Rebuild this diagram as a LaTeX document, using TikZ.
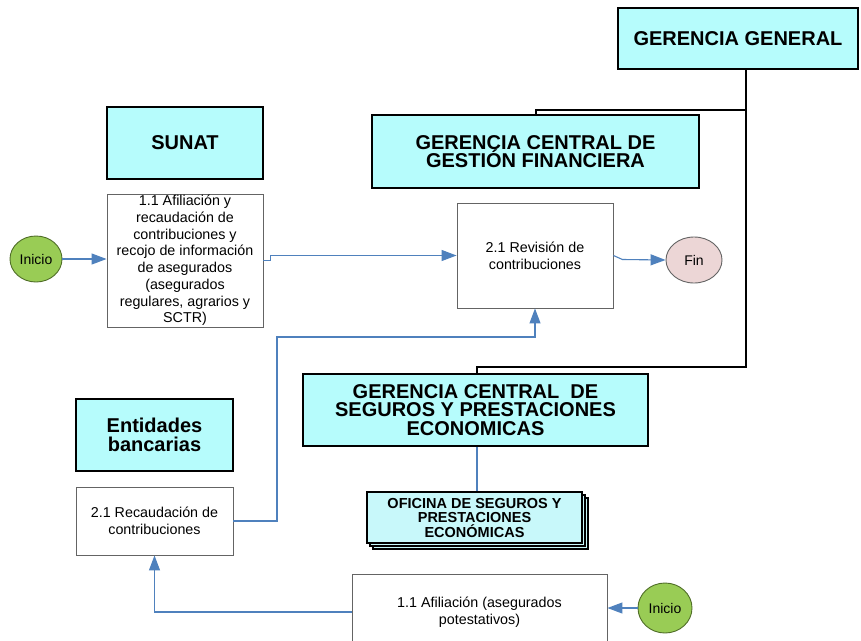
\documentclass[tikz,border=0pt]{standalone}
\usepackage{fontspec}
\setmainfont{Liberation Sans}
\usetikzlibrary{arrows.meta}
\definecolor{hcyan}{RGB}{182,252,252}
\definecolor{ofcyan}{RGB}{200,248,250}
\definecolor{flowblue}{RGB}{79,129,189}
\definecolor{igreen}{RGB}{153,204,85}
\definecolor{igreenb}{RGB}{80,110,40}
\definecolor{finpink}{RGB}{236,214,214}
\definecolor{boxgray}{RGB}{100,100,100}
\tikzset{
  hdr/.style={draw=black, line width=2pt, fill=hcyan, align=center, inner sep=0pt,
    font=\fontsize{20}{18.6}\selectfont\bfseries},
  proc/.style={draw=boxgray, line width=0.9pt, fill=white, align=center, inner sep=0pt,
    font=\fontsize{14.3}{16.7}\selectfont},
  term/.style={ellipse, draw, line width=0.9pt, inner sep=0pt, font=\fontsize{14}{16}\selectfont},
  org/.style={draw=black, line width=2pt},
  flow/.style={draw=flowblue, line width=1.1pt},
  flowa/.style={flow, -{Triangle[length=15pt,width=11pt]}},
  ofbox/.style={draw=black, line width=1.5pt, fill=ofcyan},
}
\usetikzlibrary{shapes.geometric}
\begin{document}
\begin{tikzpicture}[x=1pt,y=-1pt]
\clip (0,0) rectangle (861,640);
\fill[white] (0,0) rectangle (861,640);

% header boxes
\node[hdr, minimum width=240, minimum height=61] (gg) at (738,38.5) {GERENCIA GENERAL};
\node[hdr, minimum width=156, minimum height=72] (sunat) at (185,143) {SUNAT};
\node[hdr, minimum width=327, minimum height=73] (gcgf) at (535.5,151.5) {GERENCIA CENTRAL DE\\GESTIÓN FINANCIERA};
\node[hdr, minimum width=345, minimum height=72] (gcspe) at (475.5,410) {GERENCIA CENTRAL\ \ DE\\SEGUROS Y PRESTACIONES\\ECONOMICAS};
\node[hdr, minimum width=157, minimum height=72, font=\fontsize{20}{18.5}\selectfont\bfseries] (ent) at (154.5,435) {Entidades\\bancarias};

% process boxes
\node[proc, minimum width=156, minimum height=133] (b11) at (185,260.5) {1.1 Afiliación y\\recaudación de\\contribuciones y\\recojo de información\\de asegurados\\(asegurados\\regulares, agrarios y\\SCTR)};
\node[proc, minimum width=156, minimum height=105] (rev) at (535,255.5) {2.1 Revisión de\\contribuciones};
\node[proc, minimum width=157, minimum height=68] (rec) at (154.5,521) {2.1 Recaudación de\\contribuciones};
\node[proc, minimum width=255, minimum height=76] (afil) at (479.5,612) {1.1 Afiliación (asegurados\\potestativos)};

% terminals
\node[term, fill=igreen, draw=igreenb, minimum width=52, minimum height=46] (ini1) at (36,259) {Inicio};
\node[term, fill=igreen, draw=igreenb, minimum width=54, minimum height=50] (ini2) at (665,608) {Inicio};
\node[term, fill=finpink, draw=boxgray, minimum width=56, minimum height=46] (fin) at (694,260) {Fin};

% oficina stacked box
\draw[ofbox] (373,498) rectangle (588,549);
\draw[ofbox] (370,495) rectangle (585,546);
\node[ofbox, minimum width=215, minimum height=51, inner sep=0pt, align=center,
  font=\fontsize{14.5}{14.5}\selectfont\bfseries] (of) at (474.5,517.5)
  {OFICINA DE SEGUROS Y\\PRESTACIONES\\ECONÓMICAS};

% organisation lines
\coordinate (c1) at (746,367);
\coordinate (c2) at (477,367);
\coordinate (c3) at (746,110);
\draw[org] (gg.south -| c1) -- (c1) -- (c2) -- (gcspe.north -| c2);
\draw[org] (c3) -| (gcgf.north);
\draw[flow] (gcspe.south -| c2) -- (of.north -| c2);

% flow connectors
\draw[flowa] (ini1.east) -- (ini1.east -| b11.west);
\draw[flowa] (b11.east) -- ++(7,0) |- (rev.west);
\draw[flowa] (rev.east) -- ++(9,4) -- (fin.west);
\coordinate (k1) at (277,337);
\draw[flowa] (rec.east) -| (k1) -- (k1 -| rev.south) -- (rev.south);
\draw[flowa] (ini2.west) -- (ini2.west -| afil.east);
\draw[flowa] (afil.west) -| (rec.south);
\end{tikzpicture}
\end{document}
